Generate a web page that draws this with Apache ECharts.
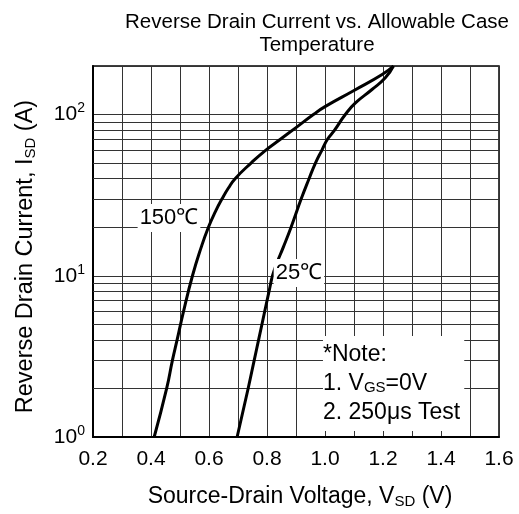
<!DOCTYPE html>
<html>
<head>
<meta charset="utf-8">
<script src="https://cdn.jsdelivr.net/npm/echarts@6/dist/echarts.min.js"></script>
<style>
  html, body { margin: 0; padding: 0; background: #fff; }
  #chartWrap { width: 519px; height: 514px; }
</style>
</head>
<body>
<div id="chartWrap"></div>
<script>
// 150 C curve (V_SD in V, I_SD in A)
const v150 = [0.411, 0.454, 0.474, 0.49, 0.512, 0.543, 0.573, 0.598, 0.622, 0.645, 0.667, 0.69, 0.745, 0.795, 0.845, 0.9, 0.96, 1.0, 1.1, 1.197, 1.236];
const i150 = [1, 2, 3, 4, 6, 10, 15, 20, 25, 30, 35, 40, 50, 60, 70, 83, 100, 112, 141, 177, 200];
// 25 C curve
const v25 = [0.697, 0.735, 0.756, 0.771, 0.792, 0.807, 0.819, 0.834, 0.856, 0.883, 0.918, 0.945, 0.967, 0.989, 1.008, 1.033, 1.07, 1.105, 1.162, 1.208, 1.236];
const i25 = [1, 2, 3, 4, 6, 8, 10, 12, 15, 20, 30, 40, 50, 60, 70, 80, 100, 118, 143, 169, 200];

// minor log grid lines
const minorY = [2, 3, 4, 5, 6, 7, 8, 9, 20, 30, 40, 50, 60, 70, 80, 90];

const font = 'Liberation Sans, Arial, Helvetica, sans-serif';

const pairs = (xs, ys) => xs.map((x, i) => [x, ys[i]]);

const chart = echarts.init(document.getElementById('chartWrap'));

const gridLine = { color: '#333', width: 1 };

const option = {
  animation: false,
  title: {
    text: 'Reverse Drain Current vs. Allowable Case\nTemperature',
    left: 312,
    top: 6,
    textAlign: 'center',
    textStyle: { fontFamily: font, fontSize: 20.5, fontWeight: 'normal', color: '#000', lineHeight: 23 }
  },
  grid: {
    left: 93, right: 20, top: 66, bottom: 75,
    show: true, borderColor: '#000', borderWidth: 1.5, backgroundColor: '#fff'
  },
  xAxis: {
    type: 'value',
    min: 0.2, max: 1.6, interval: 0.2,
    name: '{a|Source-Drain Voltage, V}{s|SD}{a| (V)}',
    nameLocation: 'middle',
    nameGap: 48,
    nameTextStyle: {
      padding: [0, 0, 0, 8],
      rich: {
        a: { fontFamily: font, fontSize: 23, color: '#000' },
        s: { fontFamily: font, fontSize: 15, color: '#000', padding: [9, 0, 0, 0] }
      }
    },
    axisLine: { show: true, lineStyle: { color: '#000', width: 2 } },
    axisTick: { show: false },
    axisLabel: { fontFamily: font, fontSize: 21, color: '#000', margin: 12, formatter: v => v.toFixed(1) },
    splitLine: { show: true, lineStyle: gridLine },
    minorTick: { show: false, splitNumber: 2 },
    minorSplitLine: { show: true, lineStyle: gridLine }
  },
  yAxis: {
    type: 'log',
    logBase: 10,
    min: 1, max: 200,
    name: '{a|Reverse Drain Current, I}{s|SD}{a| (A)}',
    nameLocation: 'middle',
    nameGap: 55,
    nameTextStyle: {
      padding: [0, 10, 0, 0],
      rich: {
        a: { fontFamily: font, fontSize: 23.5, color: '#000' },
        s: { fontFamily: font, fontSize: 15, color: '#000', padding: [9, 0, 0, 0] }
      }
    },
    axisLine: { show: true, lineStyle: { color: '#000', width: 2 } },
    axisTick: { show: false },
    axisLabel: {
      margin: 8,
      formatter: v => {
        const e = Math.round(Math.log10(v));
        if (Math.abs(Math.pow(10, e) - v) > 1e-6) return '';
        return '{b|10}{s|' + e + '}';
      },
      rich: {
        b: { fontFamily: font, fontSize: 21, color: '#000' },
        s: { fontFamily: font, fontSize: 14, color: '#000', padding: [0, 0, 12, 0] }
      }
    },
    splitLine: { show: true, lineStyle: gridLine }
  },
  series: [
    {
      type: 'line',
      data: pairs(v150, i150),
      smooth: 0.5,
      symbol: 'none',
      lineStyle: { color: '#000', width: 3 },
      z: 5,
      markLine: {
        silent: true,
        symbol: 'none',
        label: { show: false },
        lineStyle: { color: '#333', width: 1, type: 'solid' },
        data: minorY.map(y => ({ yAxis: y })),
        z: 1
      }
    },
    {
      type: 'line',
      data: pairs(v25, i25),
      smooth: 0.5,
      symbol: 'none',
      lineStyle: { color: '#000', width: 3 },
      z: 5
    },
    {
      // text annotations placed in data coordinates
      type: 'scatter',
      symbol: 'rect',
      symbolSize: 1,
      itemStyle: { color: 'rgba(0,0,0,0)', opacity: 1 },
      z: 10,
      silent: true,
      label: {
        show: true, position: 'inside',
        fontFamily: font, fontSize: 22, color: '#000',
        backgroundColor: '#fff', padding: [3, 2, 3, 2]
      },
      data: [
        { value: [0.462, 22.8], label: { formatter: '150℃' } },
        { value: [0.91, 10.4], label: { formatter: '25℃' } },
        {
          value: [0.993, 2.15],
          label: {
            align: 'left',
            formatter: [
              '{t|*Note:}',
              '{t|1. V}{s|GS}{t|=0V}',
              '{t|2. 250μs Test}'
            ].join('\n'),
            padding: [4, 4, 4, 0],
            rich: {
              t: { fontFamily: font, fontSize: 23, color: '#000', lineHeight: 29 },
              s: { fontFamily: font, fontSize: 15, color: '#000', lineHeight: 29, padding: [9, 0, 0, 0] }
            }
          }
        }
      ]
    }
  ]
};

chart.setOption(option);
</script>
</body>
</html>
